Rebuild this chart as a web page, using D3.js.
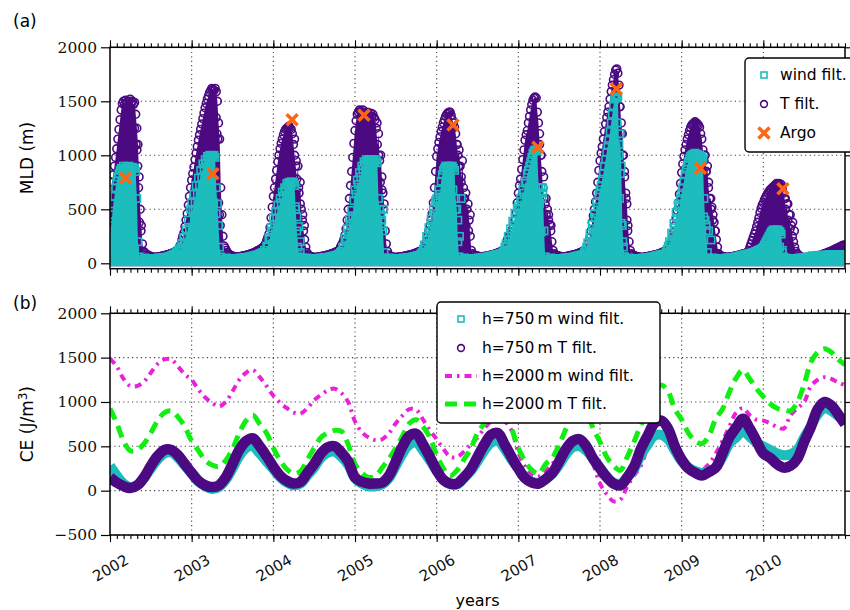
<!DOCTYPE html>
<html>
<head>
<meta charset="utf-8">
<script src="https://cdn.jsdelivr.net/npm/d3@7"></script>
<style>
  body { margin: 0; background: #fff; }
  svg { display: block; }
</style>
</head>
<body>
<div id="chart"></div>
<script>
// ---- data ----
// MLD series: one value every 5 days (73 per year) starting 2002.0
const startYear = 2002;
const stepsPerYear = 73;

const tFiltMLD = [
  // 2002
  620,680,750,820,900,980,1060,1150,1240,1330,1420,1480,
  1500,1470,1510,1490,1460,1500,1520,1480,1500,1470,1490,
  1380,1250,1100,800,500,350,180,
  110,100,90,80,75,70,65,60,60,55,55,
  55,58,60,60,62,65,68,70,72,75,78,
  80,85,88,92,96,100,105,110,118,125,
  150,170,210,250,280,340,400,460,540,620,700,
  // 2003
  770,830,890,960,1020,1080,1140,1190,1240,1290,1340,1390,
  1440,1480,1520,1550,1580,1600,1620,1610,1600,1620,1590,1500,
  1300,1150,700,450,250,160,
  140,120,100,90,80,72,68,65,62,60,60,
  58,60,62,64,66,68,70,72,75,78,80,
  84,88,92,96,100,105,112,118,120,128,
  135,142,150,165,180,210,240,270,330,420,520,
  // 2004
  620,700,780,860,940,1000,1060,1110,1150,1190,1220,1240,
  1250,1260,1270,1250,1240,1200,1100,1000,900,780,900,650,
  750,500,400,300,220,150,
  100,80,70,65,60,58,55,55,55,56,58,
  60,62,64,66,68,70,72,75,78,80,84,
  88,92,96,100,104,108,115,123,150,170,
  190,220,260,320,400,500,600,720,850,980,1110,
  // 2005
  1230,1320,1380,1400,1420,1410,1400,1420,1390,1400,1380,1400,
  1380,1370,1390,1360,1380,1350,1330,1250,1100,1200,950,1000,
  800,650,550,300,180,110,
  80,70,65,60,58,55,55,55,56,57,58,
  60,62,64,66,68,70,72,75,78,80,83,
  86,90,94,98,102,106,110,115,120,125,
  140,170,200,250,300,350,400,460,560,700,850,
  // 2006
  990,1060,1120,1170,1220,1260,1300,1330,1360,1380,1390,1400,
  1400,1370,1330,1300,1260,1200,1100,1000,1050,900,800,950,
  700,600,650,500,550,400,
  250,120,90,80,75,70,68,66,64,62,62,
  62,63,64,66,68,70,72,75,78,80,83,
  86,90,94,98,102,106,110,115,123,135,
  160,210,240,260,280,290,320,350,400,470,560,
  // 2007
  650,720,780,870,960,1050,1140,1190,1230,1300,1360,1420,
  1470,1510,1530,1540,1530,1400,1300,1100,1000,850,700,600,
  550,450,500,400,360,300,
  200,120,90,80,75,70,68,65,62,60,60,
  60,62,64,66,68,70,72,75,78,80,83,
  86,90,94,98,102,106,112,118,125,135,
  150,190,240,300,380,440,500,570,650,750,860,
  // 2008
  950,1020,1080,1150,1220,1290,1350,1400,1450,1520,1590,1650,
  1700,1750,1790,1800,1760,1650,1450,1300,1200,1000,800,650,
  550,350,200,120,90,80,
  75,70,65,62,60,58,56,55,55,56,58,
  60,62,64,66,68,70,72,75,78,80,83,
  86,90,94,98,102,106,110,115,120,130,
  145,170,200,240,290,350,420,490,560,640,740,
  // 2009
  840,920,990,1050,1100,1150,1190,1230,1260,1280,1290,1300,
  1310,1300,1290,1280,1260,1200,1150,1050,950,1000,850,900,
  700,600,600,520,450,380,
  300,220,150,90,75,70,65,62,60,58,56,
  55,56,58,60,62,64,66,68,70,72,75,
  78,80,84,88,90,92,95,105,120,150,
  180,210,240,270,300,340,380,420,470,510,540,
  // 2010
  560,590,610,630,650,665,680,690,700,710,720,730,
  740,730,740,720,730,700,650,600,500,550,400,450,
  320,350,250,200,150,110,
  90,80,70,62,58,55,52,50,50,50,50,
  52,54,56,58,60,62,64,66,68,70,74,
  78,82,86,90,94,98,102,106,110,115,
  120,125,130,135,140,145,150,155,160,165,170
];

const windFiltMLD = [
  // 2002
  250,350,450,550,620,700,760,800,830,860,880,870,
  900,880,860,890,870,900,880,860,890,880,880,850,
  600,200,60,40,35,30,
  30,50,25,45,20,40,20,40,25,45,25,
  45,30,50,30,50,35,55,35,55,40,60,
  45,65,50,75,55,85,65,100,80,120,
  140,110,185,150,240,190,310,250,400,320,500,
  // 2003
  560,480,640,560,720,640,790,720,860,800,920,880,
  960,930,990,970,1000,980,1000,990,1000,980,700,550,
  350,150,60,40,35,30,
  30,50,25,45,20,40,20,40,25,45,25,
  45,30,50,30,50,35,55,35,55,40,60,
  45,65,50,70,55,75,60,80,65,90,
  70,100,80,120,100,160,150,240,220,330,300,
  // 2004
  420,360,480,420,540,480,600,560,660,620,700,680,
  740,720,750,740,755,740,750,720,500,300,150,60,
  40,25,50,25,45,30,
  50,25,45,20,40,20,40,25,45,25,45,
  30,50,30,50,35,55,35,55,40,60,45,
  65,50,70,55,75,60,85,70,100,110,
  150,130,230,200,320,280,410,360,490,440,580,
  // 2005
  680,640,770,730,840,800,900,870,940,920,960,940,
  960,950,960,940,960,950,940,960,930,600,500,450,
  400,300,100,50,40,30,
  30,50,25,45,20,40,20,40,25,45,25,
  45,30,50,30,50,35,55,35,55,40,60,
  45,65,50,70,55,75,70,90,100,130,
  170,150,250,220,330,290,410,370,500,460,580,
  // 2006
  600,560,680,640,760,820,860,880,900,890,900,880,
  900,890,900,880,860,600,500,200,60,40,35,30,
  30,50,25,45,20,40,
  20,40,25,45,25,45,30,50,30,50,35,
  55,35,55,40,60,45,65,50,70,55,75,
  60,80,65,85,70,90,70,100,120,150,
  180,160,250,220,320,280,390,350,460,420,510,
  // 2007
  530,500,600,570,680,650,760,740,830,860,900,940,
  980,1020,1040,1050,1040,1050,700,650,700,600,650,300,
  60,40,35,30,30,50,
  25,45,20,40,20,40,25,45,25,45,30,
  50,30,50,35,55,35,55,40,60,45,65,
  50,70,55,75,60,80,70,100,120,150,
  190,170,270,240,360,320,460,420,560,520,640,
  // 2008
  680,720,780,830,900,960,1030,1090,1140,1220,1300,1380,
  1460,1520,1540,1530,1540,1100,1200,900,350,150,60,40,
  35,30,50,25,45,20,
  40,20,40,25,45,25,45,30,50,30,50,
  35,55,35,55,40,60,45,65,50,70,55,
  75,60,80,65,85,70,70,100,130,160,
  200,180,280,250,370,330,470,420,550,520,600,
  // 2009
  650,700,760,820,870,910,940,970,990,1000,1010,1000,
  1020,1000,1010,990,1000,980,990,970,600,400,300,100,
  50,40,35,30,50,25,
  45,20,40,20,40,25,45,25,45,30,50,
  30,50,35,55,35,55,40,60,45,65,50,
  70,55,75,60,80,65,85,70,90,75,
  95,80,100,85,110,95,120,105,130,115,140,
  // 2010
  150,170,190,210,230,250,270,290,300,310,300,310,
  300,310,300,290,270,120,60,40,50,25,45,20,
  40,20,40,25,45,25,
  45,30,50,30,50,35,55,35,55,40,60,
  45,65,50,70,50,70,50,70,55,75,55,
  75,55,75,55,75,60,80,60,80,60,
  80,60,80,60,80,60,80,60,80,60,80
];

// scattered points during the spring collapse [year, MLD]
const tFiltScatter = [
  [2002.30,1250],[2002.32,1100],[2002.33,1050],[2002.34,900],[2002.35,700],[2002.36,380],[2002.38,300],
  [2003.30,1350],[2003.31,1200],[2003.32,1150],[2003.33,560],[2003.34,450],[2003.35,350],
  [2004.26,1150],[2004.28,950],[2004.31,700],[2004.33,550],[2004.36,450],[2004.38,350],
  [2005.27,1300],[2005.29,1000],[2005.31,750],[2005.33,680],[2005.35,500],
  [2006.25,1100],[2006.27,900],[2006.30,750],[2006.33,600],[2006.36,350],[2006.39,300],[2006.41,450],
  [2007.26,1200],[2007.28,1000],[2007.31,800],[2007.34,600],[2007.37,450],[2007.40,350],
  [2008.24,1450],[2008.26,1200],[2008.28,1000],[2008.30,850],[2008.32,600],[2008.33,400],[2008.34,300],
  [2009.28,1000],[2009.30,850],[2009.33,750],[2009.36,500],[2009.38,400],[2009.41,300],
  [2010.27,600],[2010.30,550],[2010.33,450],[2010.36,380],[2010.38,300]
];
const windFiltScatter = [
  [2002.18,460],[2002.25,550],[2002.27,310],[2002.30,120],
  [2003.24,650],[2003.27,560],[2003.28,200],[2003.30,460],[2003.30,60],
  [2004.27,525],[2004.29,430],[2004.31,340],[2004.33,200],[2004.33,100],
  [2005.20,525],[2005.24,450],[2005.28,400],[2005.32,340],[2005.35,500],
  [2006.20,680],[2006.23,500],[2006.26,400],[2006.28,250],[2006.30,600],
  [2007.19,740],[2007.22,600],[2007.26,555],[2007.28,290],[2007.30,700],
  [2008.21,1300],[2008.23,1000],[2008.24,600],[2008.25,830],[2008.26,370],[2008.28,200],[2008.29,60],
  [2009.27,430],[2009.30,350],[2009.33,300],[2009.36,216],
  [2010.20,150],[2010.23,100]
];

const argoYear = [2002.19, 2003.26, 2004.23, 2005.11, 2006.20, 2007.24, 2008.20, 2009.23, 2010.24];
const argoMLD  = [790, 830, 1330, 1370, 1280, 1075, 1615, 880, 690];

// CE series: monthly values from 2002.0 to 2011.0
const ceW750 = [
  280,170,80,40,60,140,250,350,420,430,370,280,
  190,100,50,20,40,120,250,390,480,500,420,330,
  240,150,90,60,80,170,260,370,430,440,380,290,
  140,80,50,50,70,140,280,420,520,540,450,340,
  220,120,70,70,140,220,330,450,540,560,470,350,
  250,150,100,90,130,190,290,410,490,500,450,360,
  260,160,90,80,150,240,400,520,620,630,580,450,
  330,260,220,200,220,260,380,530,600,670,610,540,
  500,460,420,400,410,460,600,730,860,930,900,840,
  780
];
const ceT750 = [
  150,90,50,30,60,150,280,390,460,460,400,300,
  200,110,60,40,60,150,300,460,560,590,500,390,
  270,170,110,80,100,200,300,420,490,500,430,330,
  150,100,80,80,90,170,330,500,620,640,520,380,
  230,120,80,80,150,240,380,520,630,650,520,380,
  250,140,90,80,130,200,330,470,560,580,500,360,
  250,150,80,60,150,270,470,620,760,790,700,500,
  350,250,200,170,210,260,420,600,710,810,700,560,
  420,370,300,260,280,360,550,720,920,1000,960,860,
  750
];
const ceW2000 = [
  1490,1400,1260,1180,1180,1230,1330,1430,1480,1480,1400,1310,
  1250,1140,1050,990,950,1000,1120,1250,1330,1360,1280,1180,
  1070,990,930,880,870,930,1020,1080,1130,1150,1100,1000,
  780,660,600,570,580,650,760,850,920,910,800,680,
  580,470,380,380,440,520,600,700,780,800,780,680,
  430,270,170,160,220,300,400,490,560,580,480,300,
  80,-40,-120,-100,50,170,280,500,700,780,650,450,
  300,220,200,230,300,420,560,720,880,930,850,800,
  790,760,720,700,850,930,1000,1180,1250,1280,1260,1220,
  1190
];
const ceT2000 = [
  925,760,560,450,460,530,650,790,880,900,830,720,
  560,450,340,290,270,340,470,650,790,850,750,650,
  480,340,240,190,220,350,480,600,650,680,670,520,
  300,200,150,160,260,360,480,620,760,800,720,600,
  400,250,170,230,350,470,650,760,900,950,850,700,
  480,330,230,190,300,370,520,700,900,980,900,700,
  550,380,280,230,380,550,740,890,1080,1190,1120,920,
  800,650,560,530,620,810,920,1110,1270,1360,1260,1150,
  1060,980,930,910,900,1000,1200,1450,1560,1600,1560,1480,
  1420
];

const yearTicks = [2002, 2003, 2004, 2005, 2006, 2007, 2008, 2009, 2010];
const mldTicks = [0, 500, 1000, 1500, 2000];
const ceTicks = [-500, 0, 500, 1000, 1500, 2000];

// ---- layout ----
const width = 850, height = 610;
const colT = '#4b0a82', colW = '#1dbdbd', colArgo = '#ff6512';
const colMag = '#e822d8', colGreen = '#11ee11';
const sans = "'DejaVu Sans', sans-serif";
const serif = "'DejaVu Serif', serif";

const svg = d3.select('#chart').append('svg')
  .attr('width', width)
  .attr('height', height);

const x = d3.scaleLinear().domain([2002, 2011]).range([110, 845]);
const yA = d3.scaleLinear().domain([-50, 2000]).range([268.7, 47.3]);
const yB = d3.scaleLinear().domain([-500, 2000]).range([535, 313.3]);

const months = d3.range(0, 109).map(m => 2002 + m / 12);

const defs = svg.append('defs');
function addClip(id, y) {
  defs.append('clipPath').attr('id', id).append('rect')
    .attr('x', x.range()[0]).attr('y', y.range()[1])
    .attr('width', x.range()[1] - x.range()[0])
    .attr('height', y.range()[0] - y.range()[1]);
}
addClip('clipA', yA);
addClip('clipB', yB);

function drawGrid(y, ticks) {
  const g = svg.append('g')
    .attr('stroke', '#444')
    .attr('stroke-width', 1.1)
    .attr('stroke-dasharray', '1.2,3.2');
  g.selectAll('line.v').data(yearTicks.slice(1)).join('line')
    .attr('class', 'v')
    .attr('x1', d => x(d)).attr('x2', d => x(d))
    .attr('y1', y.range()[0]).attr('y2', y.range()[1]);
  g.selectAll('line.h').data(ticks).join('line')
    .attr('class', 'h')
    .attr('x1', x.range()[0]).attr('x2', x.range()[1])
    .attr('y1', d => y(d)).attr('y2', d => y(d));
}

function drawFrame(y, ticks, showYears) {
  const top = y.range()[1], bottom = y.range()[0];
  svg.append('rect')
    .attr('x', x.range()[0]).attr('y', top)
    .attr('width', x.range()[1] - x.range()[0])
    .attr('height', bottom - top)
    .attr('fill', 'none').attr('stroke', '#000').attr('stroke-width', 1.5);

  const axes = [
    [d3.axisBottom(x).tickValues(months).tickSize(4).tickFormat(''), bottom],
    [d3.axisTop(x).tickValues(months).tickSize(4).tickFormat(''), top],
    [d3.axisTop(x).tickValues(yearTicks).tickSize(7).tickFormat(''), top]
  ];
  axes.forEach(([ax, ty]) => {
    const g = svg.append('g').attr('transform', `translate(0,${ty})`).call(ax);
    g.select('.domain').remove();
    g.selectAll('line').attr('stroke-width', 1.1);
  });

  const gx = svg.append('g').attr('transform', `translate(0,${bottom})`)
    .call(d3.axisBottom(x).tickValues(yearTicks).tickSize(7)
      .tickFormat(showYears ? d3.format('d') : ''));
  gx.select('.domain').remove();
  gx.selectAll('line').attr('stroke-width', 1.1);
  gx.attr('font-family', sans).attr('font-size', 15);
  gx.selectAll('.tick text')
    .attr('y', 0).attr('dy', '0.35em')
    .attr('transform', 'translate(0,33) rotate(-30)')
    .attr('text-anchor', 'middle')
    .attr('fill', '#111');

  const gl = svg.append('g').attr('transform', `translate(${x.range()[0]},0)`)
    .call(d3.axisLeft(y).tickValues(ticks).tickSize(9).tickPadding(4)
      .tickFormat(d => d < 0 ? '\u2212' + Math.abs(d) : String(d)));
  gl.select('.domain').remove();
  gl.selectAll('line').attr('stroke-width', 1.2);
  gl.attr('font-family', serif).attr('font-size', 15.5);
  gl.selectAll('.tick text').attr('fill', '#111');

  const gr = svg.append('g').attr('transform', `translate(${x.range()[1]},0)`)
    .call(d3.axisRight(y).tickValues(ticks).tickSize(9).tickFormat(''));
  gr.select('.domain').remove();
  gr.selectAll('line').attr('stroke-width', 1.2);
}

// ---- panel (a): mixed layer depth ----
drawGrid(yA, mldTicks);

const tSeries = tFiltMLD.map((v, i) => [startYear + i / stepsPerYear, v]);
const wSeries = windFiltMLD.map((v, i) => [startYear + i / stepsPerYear, v]);
const tPts = tSeries.concat(tFiltScatter);
const wPts = wSeries.concat(windFiltScatter);

// the daily markers overlap into solid bands; draw the band body as an area
const band = d3.area()
  .x(d => x(d[0]))
  .y0(yA(-28))
  .y1(d => yA(d[1]));

const gA = svg.append('g').attr('clip-path', 'url(#clipA)');
gA.append('path').datum(tSeries).attr('d', band).attr('fill', colT);
gA.append('g').selectAll('circle').data(tPts).join('circle')
  .attr('cx', d => x(d[0])).attr('cy', d => yA(d[1])).attr('r', 3.9)
  .attr('fill', 'none').attr('stroke', colT).attr('stroke-width', 1.6);
gA.append('path').datum(wSeries).attr('d', band).attr('fill', colW);
gA.append('g').selectAll('rect').data(wPts).join('rect')
  .attr('x', d => x(d[0]) - 3.6).attr('y', d => yA(d[1]) - 3.6)
  .attr('width', 7.2).attr('height', 7.2)
  .attr('fill', 'none').attr('stroke', colW).attr('stroke-width', 1.6);

const crossPath = 'M-5.5,-5.5L5.5,5.5M-5.5,5.5L5.5,-5.5';
gA.append('g').selectAll('path').data(argoYear).join('path')
  .attr('transform', (d, i) => `translate(${x(d)},${yA(argoMLD[i])})`)
  .attr('d', crossPath)
  .attr('stroke', colArgo).attr('stroke-width', 3.5).attr('fill', 'none');

drawFrame(yA, mldTicks, false);

// ---- panel (b): CE ----
drawGrid(yB, ceTicks);

const line = d3.line()
  .x((d, i) => x(months[i]))
  .y(d => yB(d))
  .curve(d3.curveCatmullRom.alpha(0.5));

const gB = svg.append('g').attr('clip-path', 'url(#clipB)');
gB.append('path').datum(ceW2000).attr('d', line)
  .attr('fill', 'none').attr('stroke', colMag).attr('stroke-width', 4)
  .attr('stroke-dasharray', '7,5,2.5,5');
gB.append('path').datum(ceT2000).attr('d', line)
  .attr('fill', 'none').attr('stroke', colGreen).attr('stroke-width', 5)
  .attr('stroke-dasharray', '12,7');
gB.append('path').datum(ceW750).attr('d', line)
  .attr('fill', 'none').attr('stroke', colW).attr('stroke-width', 10)
  .attr('stroke-linejoin', 'round');
gB.append('path').datum(ceT750).attr('d', line)
  .attr('fill', 'none').attr('stroke', colT).attr('stroke-width', 10.5)
  .attr('stroke-linejoin', 'round');

drawFrame(yB, ceTicks, true);

// ---- labels ----
svg.append('text').attr('x', 13).attr('y', 27).text('(a)')
  .attr('font-family', sans).attr('font-size', 17);
svg.append('text').attr('x', 13).attr('y', 309).text('(b)')
  .attr('font-family', sans).attr('font-size', 17);

svg.append('text')
  .attr('transform', `translate(33,${(yA.range()[0] + yA.range()[1]) / 2}) rotate(-90)`)
  .attr('text-anchor', 'middle')
  .attr('font-family', sans).attr('font-size', 17)
  .text('MLD (m)');

const ceLab = svg.append('text')
  .attr('transform', `translate(33,${(yB.range()[0] + yB.range()[1]) / 2}) rotate(-90)`)
  .attr('text-anchor', 'middle')
  .attr('font-family', sans).attr('font-size', 17);
ceLab.append('tspan').text('CE (J/m');
ceLab.append('tspan').attr('dy', -6).attr('font-size', 12).text('3');
ceLab.append('tspan').attr('dy', 6).text(')');

svg.append('text')
  .attr('x', (x.range()[0] + x.range()[1]) / 2).attr('y', 606)
  .attr('text-anchor', 'middle')
  .attr('font-family', sans).attr('font-size', 16)
  .text('years');

// ---- legend (a) ----
const legA = svg.append('g');
legA.append('rect').attr('x', 745).attr('y', 58).attr('width', 130).attr('height', 94)
  .attr('rx', 4).attr('fill', '#fff').attr('stroke', '#000').attr('stroke-width', 1.4);
const legARows = [
  { label: 'wind filt.', kind: 'square', y: 75 },
  { label: 'T filt.', kind: 'circle', y: 104 },
  { label: 'Argo', kind: 'cross', y: 133 }
];
legARows.forEach(r => {
  if (r.kind === 'square') {
    legA.append('rect').attr('x', 761).attr('y', r.y - 3).attr('width', 6).attr('height', 6)
      .attr('fill', 'none').attr('stroke', colW).attr('stroke-width', 1.6);
  } else if (r.kind === 'circle') {
    legA.append('circle').attr('cx', 764).attr('cy', r.y).attr('r', 3.4)
      .attr('fill', 'none').attr('stroke', colT).attr('stroke-width', 1.6);
  } else {
    legA.append('path').attr('transform', `translate(764,${r.y})`).attr('d', crossPath)
      .attr('stroke', colArgo).attr('stroke-width', 3.5);
  }
  legA.append('text').attr('x', 780).attr('y', r.y).attr('dy', '0.35em')
    .attr('font-family', sans).attr('font-size', 15.5).text(r.label);
});

// ---- legend (b) ----
const legB = svg.append('g');
legB.append('rect').attr('x', 437).attr('y', 302).attr('width', 223).attr('height', 121)
  .attr('rx', 4).attr('fill', '#fff').attr('stroke', '#000').attr('stroke-width', 1.4);
const legBRows = [
  { label: 'h=750\u2009m wind filt.', kind: 'square', y: 319 },
  { label: 'h=750\u2009m T filt.', kind: 'circle', y: 348 },
  { label: 'h=2000\u2009m wind filt.', kind: 'dashdot', y: 376 },
  { label: 'h=2000\u2009m T filt.', kind: 'dash', y: 404 }
];
legBRows.forEach(r => {
  if (r.kind === 'square') {
    legB.append('rect').attr('x', 458).attr('y', r.y - 3).attr('width', 6).attr('height', 6)
      .attr('fill', 'none').attr('stroke', colW).attr('stroke-width', 1.6);
  } else if (r.kind === 'circle') {
    legB.append('circle').attr('cx', 461).attr('cy', r.y).attr('r', 3.4)
      .attr('fill', 'none').attr('stroke', colT).attr('stroke-width', 1.6);
  } else if (r.kind === 'dashdot') {
    legB.append('line').attr('x1', 445).attr('x2', 477).attr('y1', r.y).attr('y2', r.y)
      .attr('stroke', colMag).attr('stroke-width', 4).attr('stroke-dasharray', '7,5,2.5,5');
  } else {
    legB.append('line').attr('x1', 445).attr('x2', 478).attr('y1', r.y).attr('y2', r.y)
      .attr('stroke', colGreen).attr('stroke-width', 5).attr('stroke-dasharray', '12,7');
  }
  legB.append('text').attr('x', 482).attr('y', r.y).attr('dy', '0.35em')
    .attr('font-family', sans).attr('font-size', 15.5).text(r.label);
});
</script>
</body>
</html>
